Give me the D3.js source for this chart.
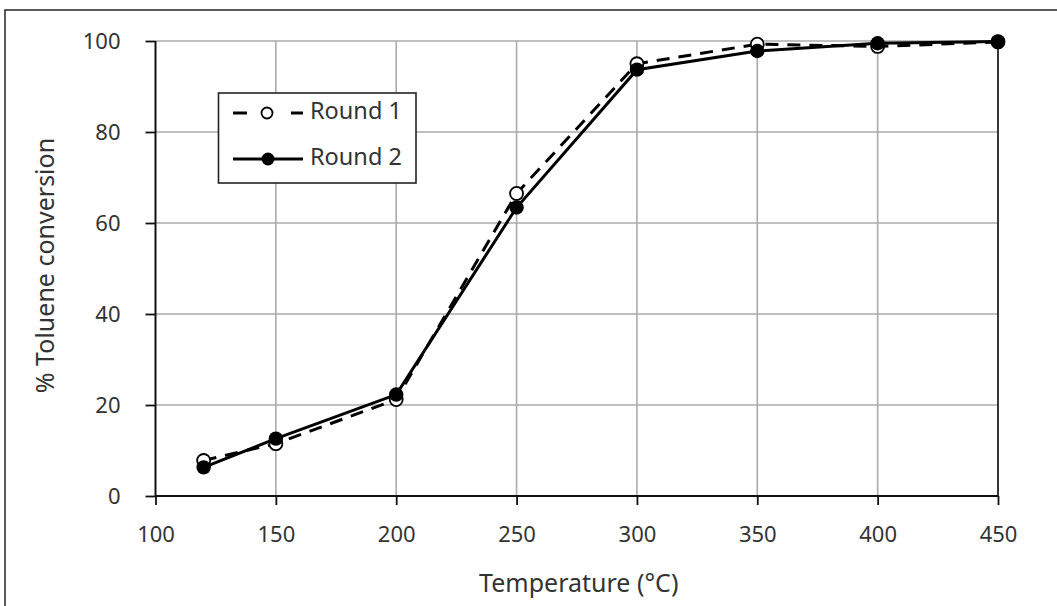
<!DOCTYPE html>
<html>
<head>
<meta charset="utf-8">
<script src="https://cdn.jsdelivr.net/npm/d3@7"></script>
<style>
  html, body { margin: 0; padding: 0; background: #fff; }
  svg { display: block; }
  text { font-family: "Noto Sans", "Open Sans", sans-serif; fill: #333; }
</style>
</head>
<body>
<svg id="chart" width="1057" height="606"></svg>
<script>
// Toluene conversion vs. reaction temperature, two repeated runs
const temperatures = [120, 150, 200, 250, 300, 350, 400, 450];
const round1 = [7.8, 11.5, 21.2, 66.5, 95.0, 99.3, 98.8, 99.8];
const round2 = [6.3, 12.6, 22.3, 63.4, 93.7, 97.8, 99.5, 99.9];
const xTicks = [100, 150, 200, 250, 300, 350, 400, 450];
const yTicks = [0, 20, 40, 60, 80, 100];
const seriesNames = ["Round 1", "Round 2"];

const svg = d3.select("#chart");
const W = 1057, H = 606;
const plotL = 155.5, plotR = 998, plotT = 41, plotB = 496;

const x = d3.scaleLinear().domain([100, 450]).range([plotL, plotR]);
const y = d3.scaleLinear().domain([0, 100]).range([plotB, plotT]);

// outer frame
svg.append("rect")
  .attr("x", 5).attr("y", 10).attr("width", W + 10).attr("height", H + 10)
  .attr("fill", "none").attr("stroke", "#333").attr("stroke-width", 1.6);

// gridlines
const grid = svg.append("g");
grid.selectAll("line.h").data(yTicks.filter(d => d > 0)).join("line")
  .attr("class", "h")
  .attr("x1", plotL).attr("x2", plotR)
  .attr("y1", d => y(d)).attr("y2", d => y(d))
  .attr("stroke", "#ababab").attr("stroke-width", 1.6);
grid.selectAll("line.v").data(xTicks.filter(d => d > 100 && d < 450)).join("line")
  .attr("class", "v")
  .attr("x1", d => x(d)).attr("x2", d => x(d))
  .attr("y1", plotT).attr("y2", plotB)
  .attr("stroke", "#ababab").attr("stroke-width", 1.6);

// right edge of plot area
svg.append("line")
  .attr("x1", plotR).attr("x2", plotR).attr("y1", plotT).attr("y2", plotB)
  .attr("stroke", "#222").attr("stroke-width", 1.8);

// axes
const xAxis = svg.append("g").attr("transform", `translate(0,${plotB})`)
  .call(d3.axisBottom(x).tickValues(xTicks).tickSize(9).tickPadding(21).tickFormat(d3.format("d")));
const yAxis = svg.append("g").attr("transform", `translate(${plotL},0)`)
  .call(d3.axisLeft(y).tickValues(yTicks).tickSize(10).tickPadding(25).tickFormat(d3.format("d")));
[xAxis, yAxis].forEach(a => {
  a.select(".domain").attr("stroke", "#111").attr("stroke-width", 2);
  a.selectAll(".tick line").attr("stroke", "#111").attr("stroke-width", 1.8);
  a.selectAll(".tick text").style("font-size", "22px")
    .style("font-family", "'Noto Sans', sans-serif").attr("fill", "#333");
});
xAxis.select(".domain").attr("d", `M${plotL},0H${plotR}`);
yAxis.select(".domain").attr("d", `M0,${plotB}V${plotT}`);

// axis titles
svg.append("text")
  .attr("x", (plotL + plotR) / 2 + 2).attr("y", 585)
  .attr("text-anchor", "middle").attr("dominant-baseline", "middle")
  .style("font-size", "25px").text("Temperature (°C)");
svg.append("text")
  .attr("transform", `translate(47,${(plotT + plotB) / 2 - 3}) rotate(-90)`)
  .attr("text-anchor", "middle").attr("dominant-baseline", "middle")
  .style("font-size", "25px").text("% Toluene conversion");

// series
const line = d3.line().x(d => x(d[0])).y(d => y(d[1]));
const pts1 = temperatures.map((t, i) => [t, round1[i]]);
const pts2 = temperatures.map((t, i) => [t, round2[i]]);

svg.append("path").datum(pts1).attr("d", line)
  .attr("fill", "none").attr("stroke", "#000").attr("stroke-width", 3)
  .attr("stroke-dasharray", "13,9");
svg.append("g").selectAll("circle").data(pts1).join("circle")
  .attr("cx", d => x(d[0])).attr("cy", d => y(d[1])).attr("r", 6.5)
  .attr("fill", "#fff").attr("stroke", "#000").attr("stroke-width", 1.8);

svg.append("path").datum(pts2).attr("d", line)
  .attr("fill", "none").attr("stroke", "#000").attr("stroke-width", 3);
svg.append("g").selectAll("circle").data(pts2).join("circle")
  .attr("cx", d => x(d[0])).attr("cy", d => y(d[1])).attr("r", 7.2)
  .attr("fill", "#000");

// legend
const lg = svg.append("g");
lg.append("rect").attr("x", 218.5).attr("y", 93).attr("width", 197.5).attr("height", 90)
  .attr("fill", "#fff").attr("stroke", "#222").attr("stroke-width", 1.6);
const rows = [113, 159];
seriesNames.forEach((name, i) => {
  const cy = rows[i];
  if (i === 0) {
    lg.append("line").attr("x1", 233).attr("x2", 247).attr("y1", cy).attr("y2", cy)
      .attr("stroke", "#000").attr("stroke-width", 3);
    lg.append("line").attr("x1", 291).attr("x2", 303).attr("y1", cy).attr("y2", cy)
      .attr("stroke", "#000").attr("stroke-width", 3);
    lg.append("circle").attr("cx", 267).attr("cy", cy).attr("r", 5.5)
      .attr("fill", "#fff").attr("stroke", "#000").attr("stroke-width", 1.8);
  } else {
    lg.append("line").attr("x1", 233).attr("x2", 303).attr("y1", cy).attr("y2", cy)
      .attr("stroke", "#000").attr("stroke-width", 3);
    lg.append("circle").attr("cx", 268).attr("cy", cy).attr("r", 6.5).attr("fill", "#000");
  }
  lg.append("text").attr("x", 310).attr("y", cy).attr("dominant-baseline", "middle")
    .style("font-size", "23.5px").text(name);
});
</script>
</body>
</html>
